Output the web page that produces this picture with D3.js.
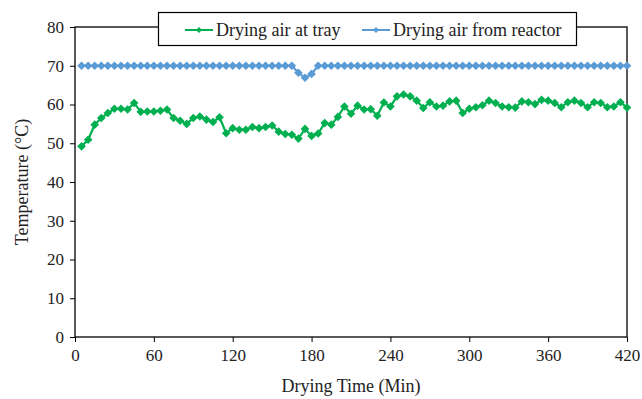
<!DOCTYPE html>
<html>
<head>
<meta charset="utf-8">
<script src="https://cdn.jsdelivr.net/npm/d3@7"></script>
<style>
    body { margin: 0; background: #fff; }
    svg { display: block; font-family: "Liberation Serif", "Times New Roman", serif; }
</style>
</head>
<body>
<svg id="chart" width="642" height="399"></svg>
<script>
// ---- Dados (min, °C)
const times = d3.range(5, 421, 5);

const trayTemps = [
    49.2, 50.9, 54.8, 56.5, 57.8, 58.9, 58.9, 58.7, 60.4, 58.1,
    58.2, 58.2, 58.4, 58.7, 56.5, 55.8, 55.0, 56.5, 56.9, 56.1,
    55.5, 56.7, 52.6, 53.9, 53.5, 53.5, 54.2, 53.9, 54.2, 54.6,
    53.0, 52.4, 52.2, 51.2, 53.7, 51.9, 52.5, 55.2, 54.8, 56.8,
    59.5, 57.6, 59.7, 58.7, 58.8, 57.1, 60.5, 59.5, 62.1, 62.6,
    62.1, 61.0, 59.1, 60.6, 59.5, 59.7, 60.8, 61.0, 57.8, 58.9,
    59.3, 59.8, 61.0, 60.4, 59.5, 59.3, 59.2, 60.8, 60.6, 60.1,
    61.2, 61.0, 60.4, 59.3, 60.6, 61.0, 60.4, 59.3, 60.6, 60.4,
    59.3, 59.5, 60.6, 59.2
];

const reactorTemps = [
    70, 70, 70, 70, 70, 70, 70, 70, 70, 70,
    70, 70, 70, 70, 70, 70, 70, 70, 70, 70,
    70, 70, 70, 70, 70, 70, 70, 70, 70, 70,
    70, 70, 70, 68.2, 66.9, 67.9, 70, 70, 70, 70,
    70, 70, 70, 70, 70, 70, 70, 70, 70, 70,
    70, 70, 70, 70, 70, 70, 70, 70, 70, 70,
    70, 70, 70, 70, 70, 70, 70, 70, 70, 70,
    70, 70, 70, 70, 70, 70, 70, 70, 70, 70,
    70, 70, 70, 70
];

const xTicks = [0, 60, 120, 180, 240, 300, 360, 420];
const yTicks = [0, 10, 20, 30, 40, 50, 60, 70, 80];

const seriesNames = ['Drying air at tray', 'Drying air from reactor'];
const seriesColors = ['#00b050', '#5b9bd5'];

const margens = { left: 75, right: 15, top: 27, bottom: 62 };

const svg = d3.select('#chart');
const svgWidth = +svg.attr('width');
const svgHeight = +svg.attr('height');
const innerWidth = svgWidth - margens.left - margens.right;
const innerHeight = svgHeight - margens.top - margens.bottom;

const x = d3.scaleLinear().domain([0, 420]).range([0, innerWidth]);
const y = d3.scaleLinear().domain([0, 80]).range([innerHeight, 0]);

const mainGroup = svg.append('g')
    .attr('transform', `translate(${margens.left}, ${margens.top})`);

// ---- Eixos
mainGroup.append('g')
    .attr('transform', `translate(0, ${innerHeight})`)
    .call(d3.axisBottom(x).tickValues(xTicks).tickSize(5).tickPadding(7).tickFormat(d3.format('d')))
    .attr('font-family', null).attr('font-size', null)
    .call(g => g.select('.domain').remove())
    .call(g => g.selectAll('line').attr('stroke', '#000'))
    .call(g => g.selectAll('text').attr('font-size', '17px').attr('fill', '#222'));

mainGroup.append('g')
    .call(d3.axisLeft(y).tickValues(yTicks).tickSize(5).tickPadding(6))
    .attr('font-family', null).attr('font-size', null)
    .call(g => g.select('.domain').remove())
    .call(g => g.selectAll('line').attr('stroke', '#000'))
    .call(g => g.selectAll('text').attr('font-size', '17px').attr('fill', '#222'));

// borda do gráfico
mainGroup.append('rect')
    .attr('width', innerWidth).attr('height', innerHeight)
    .attr('fill', 'none').attr('stroke', '#000').attr('stroke-width', 1.3);

// ---- Séries
const diamond = r => `M0,${-r}L${r},0L0,${r}L${-r},0Z`;
const allSeries = [trayTemps, reactorTemps];

allSeries.forEach((values, i) => {
    const pts = times.map((t, j) => ({ t, v: values[j] }));

    mainGroup.append('path')
        .datum(pts)
        .attr('fill', 'none')
        .attr('stroke', seriesColors[i])
        .attr('stroke-width', 2.2)
        .attr('d', d3.line().x(d => x(d.t)).y(d => y(d.v)));

    mainGroup.append('g').selectAll('path')
        .data(pts).join('path')
        .attr('transform', d => `translate(${x(d.t)}, ${y(d.v)})`)
        .attr('d', diamond(4.3))
        .attr('fill', seriesColors[i]);
});

// ---- Títulos dos eixos
svg.append('text')
    .attr('x', margens.left + innerWidth / 2).attr('y', 392)
    .attr('text-anchor', 'middle').attr('font-size', '18px').attr('fill', '#222')
    .text('Drying Time (Min)');

svg.append('text')
    .attr('transform', `translate(28, ${margens.top + innerHeight / 2}) rotate(-90)`)
    .attr('text-anchor', 'middle').attr('font-size', '18px').attr('fill', '#222')
    .text('Temperature (°C)');

// ---- Legenda
const legend = svg.append('g');
legend.append('rect')
    .attr('x', 158.5).attr('y', 12.5).attr('width', 418).attr('height', 33)
    .attr('fill', '#fff').attr('stroke', '#000').attr('stroke-width', 1.2);

const legendX = [185, 362];
seriesNames.forEach((name, i) => {
    const g = legend.append('g').attr('transform', `translate(${legendX[i]}, 30)`);
    g.append('line')
        .attr('x1', 0).attr('x2', 28)
        .attr('stroke', seriesColors[i]).attr('stroke-width', 2);
    g.append('path')
        .attr('transform', 'translate(14, 0)')
        .attr('d', diamond(3))
        .attr('fill', seriesColors[i]);
    g.append('text')
        .attr('x', 31).attr('y', 6)
        .attr('font-size', '18px').attr('fill', '#222')
        .text(name);
});
</script>
</body>
</html>
